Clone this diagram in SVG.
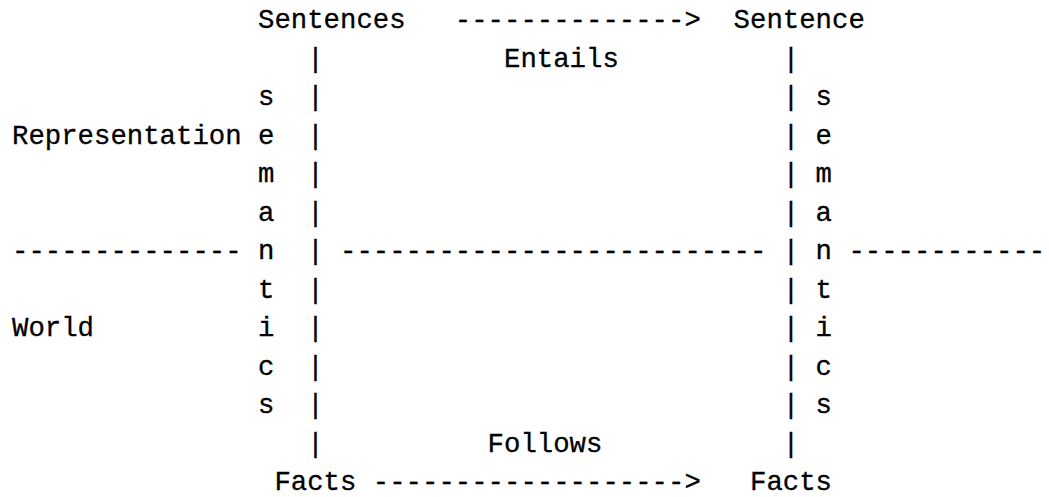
<svg xmlns="http://www.w3.org/2000/svg" width="1049" height="497" viewBox="0 0 1049 497">
  <style>
    text { font-family: "Liberation Mono", "DejaVu Sans Mono", monospace; font-size: 27.33px; fill: #000; stroke: #000; stroke-width: 0.3px; white-space: pre; }
  </style>
  <rect width="1049" height="497" fill="#fff"/>
  <!-- character grid: cell = 16.4px, column 0 at x=12, row pitch 38.5px, first baseline y=28 -->
  <g id="connectors">
    <!-- top arrow: Sentences entails Sentence -->
    <text x="454.8" y="28">--------------&gt;</text>
    <!-- bottom arrow: Facts follow from Facts -->
    <text x="372.8" y="490">-------------------&gt;</text>
    <!-- left vertical link -->
    <text x="307.2" y="66.5">|</text>
    <text x="307.2" y="105">|</text>
    <text x="307.2" y="143.5">|</text>
    <text x="307.2" y="182">|</text>
    <text x="307.2" y="220.5">|</text>
    <text x="307.2" y="259">|</text>
    <text x="307.2" y="297.5">|</text>
    <text x="307.2" y="336">|</text>
    <text x="307.2" y="374.5">|</text>
    <text x="307.2" y="413">|</text>
    <text x="307.2" y="451.5">|</text>
    <!-- right vertical link -->
    <text x="782.8" y="66.5">|</text>
    <text x="782.8" y="105">|</text>
    <text x="782.8" y="143.5">|</text>
    <text x="782.8" y="182">|</text>
    <text x="782.8" y="220.5">|</text>
    <text x="782.8" y="259">|</text>
    <text x="782.8" y="297.5">|</text>
    <text x="782.8" y="336">|</text>
    <text x="782.8" y="374.5">|</text>
    <text x="782.8" y="413">|</text>
    <text x="782.8" y="451.5">|</text>
    <!-- divider between representation and world -->
    <text x="12" y="259">--------------</text>
    <text x="340" y="259">--------------------------</text>
    <text x="848.4" y="259">-------------</text>
  </g>
  <g id="sentences-left">
    <text x="258" y="28">Sentences</text>
  </g>
  <g id="sentence-right">
    <text x="733.6" y="28">Sentence</text>
  </g>
  <g id="entails-label">
    <text x="504" y="66.5">Entails</text>
  </g>
  <g id="representation-label">
    <text x="12" y="143.5">Representation</text>
  </g>
  <g id="world-label">
    <text x="12" y="336">World</text>
  </g>
  <g id="semantics-left">
    <text x="258" y="105">s</text>
    <text x="258" y="143.5">e</text>
    <text x="258" y="182">m</text>
    <text x="258" y="220.5">a</text>
    <text x="258" y="259">n</text>
    <text x="258" y="297.5">t</text>
    <text x="258" y="336">i</text>
    <text x="258" y="374.5">c</text>
    <text x="258" y="413">s</text>
  </g>
  <g id="semantics-right">
    <text x="815.6" y="105">s</text>
    <text x="815.6" y="143.5">e</text>
    <text x="815.6" y="182">m</text>
    <text x="815.6" y="220.5">a</text>
    <text x="815.6" y="259">n</text>
    <text x="815.6" y="297.5">t</text>
    <text x="815.6" y="336">i</text>
    <text x="815.6" y="374.5">c</text>
    <text x="815.6" y="413">s</text>
  </g>
  <g id="follows-label">
    <text x="487.6" y="451.5">Follows</text>
  </g>
  <g id="facts-left">
    <text x="274.4" y="490">Facts</text>
  </g>
  <g id="facts-right">
    <text x="750" y="490">Facts</text>
  </g>
</svg>
